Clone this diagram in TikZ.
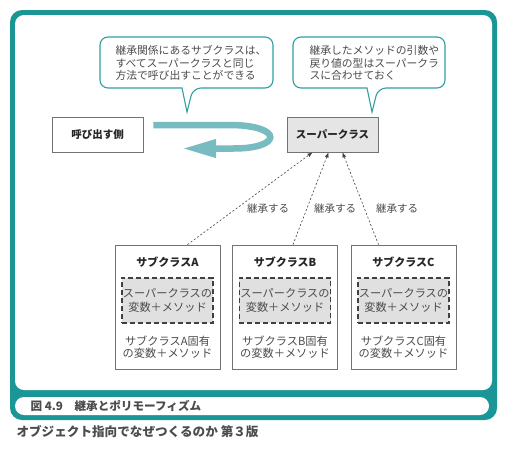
\documentclass[tikz,border=0pt]{standalone}
\usepackage{fontspec}
\setmainfont{Noto Sans CJK JP}
\usetikzlibrary{positioning}
\usetikzlibrary{calc}
\usetikzlibrary{arrows.meta}
\definecolor{figteal}{RGB}{27,150,150}
\definecolor{balloonteal}{RGB}{45,160,160}
\definecolor{flowteal}{RGB}{120,187,192}
\definecolor{ink}{RGB}{75,75,75}

\begin{document}
\begin{tikzpicture}[x=1pt, y=-1pt,
    box/.style={draw=black!55, line width=0.8pt, minimum width=91pt, minimum height=35pt,
                font=\fontsize{10.5}{13}\selectfont\bfseries, text=black!85},
    subbox/.style={draw=black!55, line width=0.8pt, minimum width=105pt, minimum height=124pt},
    subtitle/.style={font=\fontsize{11}{13}\selectfont\bfseries, text=black!85},
    inherited/.style={draw=black!75, line width=1.5pt, dash pattern=on 5pt off 3pt,
                      fill=black!12, minimum width=91pt, minimum height=45pt, inner sep=1pt,
                      align=center, font=\fontsize{11.2}{13.5}\selectfont, text=ink},
    own/.style={align=center, font=\fontsize{11.2}{12.5}\selectfont, text=ink},
    note/.style={align=left, font=\fontsize{10.8}{12.8}\selectfont, text=ink},
    balloon/.style={draw=balloonteal, line width=1.1pt},
    extends/.style={draw=black!75, line width=0.6pt, dash pattern=on 2pt off 2pt, -{Latex[length=5pt,width=4pt]}},
    lbl/.style={font=\fontsize{10.5}{12}\selectfont, text=ink}]
    \useasboundingbox (0,0) rectangle (508,448);

    % Frame
    \fill[figteal, rounded corners=12] (10,10) rectangle (497,420);
    \fill[white, rounded corners=9] (15,15) rectangle (492,390);
    \fill[white, rounded corners=9] (15,397) rectangle (489,415);
    \node[anchor=west, font=\fontsize{11.6}{13}\selectfont\bfseries, text=ink] (caption) at (27,406)
        {図 4.9　継承とポリモーフィズム};
    \node[anchor=west, font=\fontsize{12.6}{14}\selectfont\bfseries, text=black!70] (book) at (13,432)
        {オブジェクト指向でなぜつくるのか 第３版};

    % Balloons
    \foreach \l/\r/\t in {100/273/187, 293/445/372} {
        \draw[balloon] (\t-5,88) [rounded corners=8] -- (\l,88) -- (\l,37) -- (\r,37) -- (\r,88)
            -- (\t+6,88) [sharp corners] -- (\t,112) -- cycle;
    }
    \node[note, anchor=west] (noteA) at (112,63)
        {継承関係にあるサブクラスは、\\すべてスーパークラスと同じ\\方法で呼び出すことができる};
    \node[note, anchor=west] (noteB) at (306,63)
        {継承したメソッドの引数や\\戻り値の型はスーパークラ\\スに合わせておく};

    % Caller and super class
    \node[box] (caller) at (97.5,134.5) {呼び出す側};
    \node[box, fill=black!10] (super) at (332.5,134.5) {スーパークラス};
    \coordinate (back) at (182,148.5);
    \draw[flowteal, line width=6.5pt, -{Triangle[length=34pt,width=17pt]}]
        ($(caller.east)+(10,-9.5)$) -- (232,125) .. controls (284,126) and (282,149) .. (232,148.5) -- (back);

    % Sub classes
    \foreach \n/\x in {A/167.5, B/285, C/403.5} {
        \node[subbox] (sub\n) at (\x,307) {};
        \node[subtitle] (title\n) at (\x,262) {サブクラス\n};
        \node[inherited] (inh\n) at (\x,300.5) {スーパークラスの\\変数＋メソッド};
        \node[own] (own\n) at (\x,347) {サブクラス\n{}固有\\の変数＋メソッド};
    }

    % Inheritance
    \draw[extends] ($(subA.north)+(20,0)$) -- ($(super.south)+(-20,0)$);
    \draw[extends] ($(subB.north)+(8,0)$) -- ($(super.south)+(-4,0)$);
    \draw[extends] ($(subC.north)+(-25,0)$) -- ($(super.south)+(10,0)$);
    \node[lbl] (lblA) at (268,209) {継承する};
    \node[lbl] (lblB) at (335,209) {継承する};
    \node[lbl] (lblC) at (397,209) {継承する};
\end{tikzpicture}
\end{document}
